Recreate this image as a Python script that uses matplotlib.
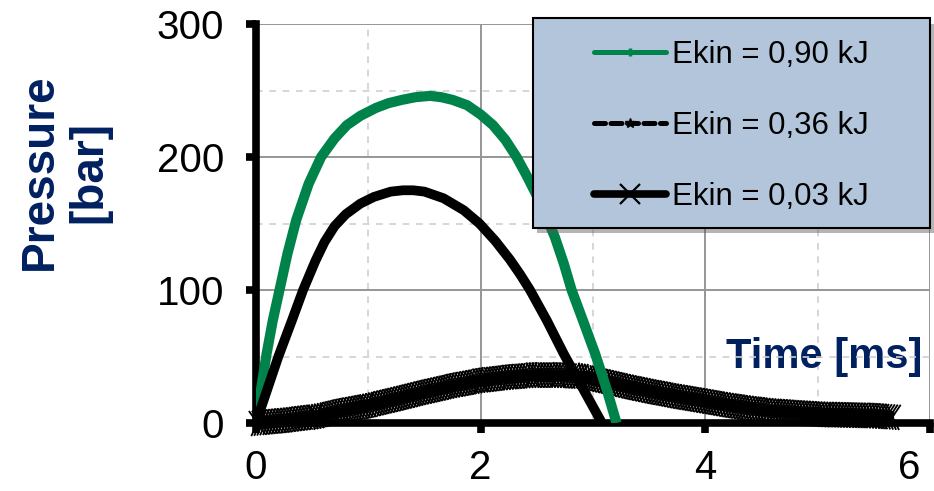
import numpy as np
import matplotlib
matplotlib.use("Agg")
import matplotlib.pyplot as plt
import matplotlib.patheffects as pe
from matplotlib.lines import Line2D
from matplotlib.patches import Rectangle
from matplotlib.ticker import MultipleLocator

plt.rcParams['font.family'] = ['Liberation Sans', 'DejaVu Sans']

# pressure traces, time in ms, pressure in bar
t_090 = [0, 0.05, 0.095, 0.15, 0.21, 0.28, 0.36, 0.47, 0.58, 0.7, 0.81, 0.93, 1.07, 1.18,
         1.3, 1.42, 1.55, 1.65, 1.75, 1.88, 2.0, 2.11, 2.22, 2.32, 2.41, 2.5, 2.58, 2.66,
         2.74, 2.81, 2.92, 3.02, 3.12, 3.21]
p_090 = [0, 28, 52, 77, 100, 127, 153, 180, 200, 214, 224, 231, 237, 240.5,
         243, 245, 246, 245, 243, 239, 232, 224, 213, 200, 186, 171, 156, 140,
         120, 100, 75, 52, 26, 0]

t_036 = [0, 0.1, 0.2, 0.32, 0.42, 0.53, 0.61, 0.7, 0.8, 0.93, 1.05, 1.2, 1.31, 1.4, 1.5,
         1.67, 1.85, 1.99, 2.13, 2.26, 2.35, 2.44, 2.59, 2.74, 2.91, 3.08]
p_036 = [0, 25, 50, 77, 100, 122, 136, 148, 157, 165, 170, 174, 175, 175, 174,
         169, 160, 150, 137, 123, 112, 100, 77, 52, 26, 0]

t_003 = [0, 0.25, 0.54, 0.75, 1.0, 1.25, 1.49, 1.75, 2.0, 2.25, 2.47, 2.7, 2.91, 3.07,
         3.33, 3.5, 3.75, 3.96, 4.2, 4.4, 4.6, 4.85, 5.05, 5.29, 5.5, 5.68]
p_003 = [0, 2, 5, 9, 13, 18, 23, 28, 32, 34.5, 36, 36, 35, 32,
         27, 24, 20, 17, 13.5, 11, 9, 7.5, 6.5, 6, 5.5, 4.5]

labels = ['Ekin = 0,90 kJ', 'Ekin = 0,36 kJ', 'Ekin = 0,03 kJ']
xticks = [0, 2, 4, 6]
yticks = [0, 100, 200, 300]

green = '#00834A'
navy = '#002060'

fig = plt.figure(figsize=(9.34, 4.91), dpi=100)
ax = fig.add_axes([0.274, 0.1385, 0.7217, 0.8125])

ax.set_xlim(0, 6)
ax.set_ylim(0, 300)

# grid: solid major, dashed minor
ax.set_xticks(xticks, [str(v) for v in xticks[:-1]] + [''])
ax.set_yticks(yticks)
ax.xaxis.set_minor_locator(MultipleLocator(1))
ax.yaxis.set_minor_locator(MultipleLocator(50))
ax.grid(which='major', color='#969696', lw=1.4, zorder=0)
ax.grid(which='minor', color='#cfcfcf', lw=1.2, ls=(0, (4, 4)), zorder=0)
ax.set_axisbelow(True)

for s in ['top', 'right']:
    ax.spines[s].set_visible(False)
for s in ['left', 'bottom']:
    ax.spines[s].set_linewidth(5.5)
    ax.spines[s].set_zorder(2.5)

ax.tick_params(which='major', direction='out', length=7, width=5.5, labelsize=29)
ax.tick_params(axis='x', which='major', pad=12)
ax.tick_params(axis='y', which='major', pad=16)
ax.tick_params(which='minor', length=0)

# last time label pulled inside the figure edge
ax.annotate(str(xticks[-1]), xy=(xticks[-1], 0), xycoords='data',
            xytext=(-15, -19), textcoords='offset points',
            ha='center', va='top', fontsize=29, annotation_clip=False)

# low energy trace drawn with dense cross ticks
hatch = [pe.TickedStroke(spacing=2.1, angle=a, length=5.0, linewidth=1.3)
         for a in (60, -120, 120, -60)]
ax.plot(t_003, p_003, color='black', lw=8.5, solid_capstyle='butt', solid_joinstyle='round',
        path_effects=hatch + [pe.Normal()], zorder=3, clip_on=False)
ax.plot(t_036, p_036, color='black', lw=7, solid_capstyle='butt', solid_joinstyle='round',
        zorder=3.2)
ax.plot(t_090, p_090, color=green, lw=7.3, solid_capstyle='butt', solid_joinstyle='round',
        zorder=3.1)

ax.set_xlabel('Time [ms]', fontsize=30, fontweight='bold', color=navy)
ax.xaxis.set_label_coords(0.988, 0.165)
ax.xaxis.label.set_ha('right')
ax.xaxis.label.set_va('center')

ax.set_ylabel('Pressure\n[bar]', fontsize=33, fontweight='bold', color=navy,
              multialignment='center', linespacing=1.15, va='center', ha='center')
ax.yaxis.set_label_coords(-0.284, 0.629)

# legend box with drop shadow
box = Rectangle((0.411, 0.489), 0.589, 0.526, transform=ax.transAxes,
                facecolor='#B3C5DB', edgecolor='black', lw=1.5, clip_on=False, zorder=4.5,
                path_effects=[pe.SimplePatchShadow(offset=(3, -4), shadow_rgbFace='0.35', alpha=0.45),
                              pe.Normal()])
ax.add_patch(box)

handles = [
    Line2D([], [], color=green, lw=3.6, marker='|', ms=6, mew=2.5, solid_capstyle='round'),
    Line2D([], [], color='black', lw=3.6, ls=(0, (2.2, 1.1)), marker='*', ms=7,
           dash_capstyle='round'),
    Line2D([], [], color='black', lw=5.5, marker='x', ms=14, mew=1.6, solid_capstyle='round'),
]
leg = ax.legend(handles, labels, loc='center', bbox_to_anchor=(0.7055, 0.745),
                frameon=False, fontsize=22.5, handlelength=2.3, handletextpad=0.2,
                labelspacing=1.32, borderaxespad=0)
leg.set_zorder(5)

fig.savefig('out.png', dpi=100)
